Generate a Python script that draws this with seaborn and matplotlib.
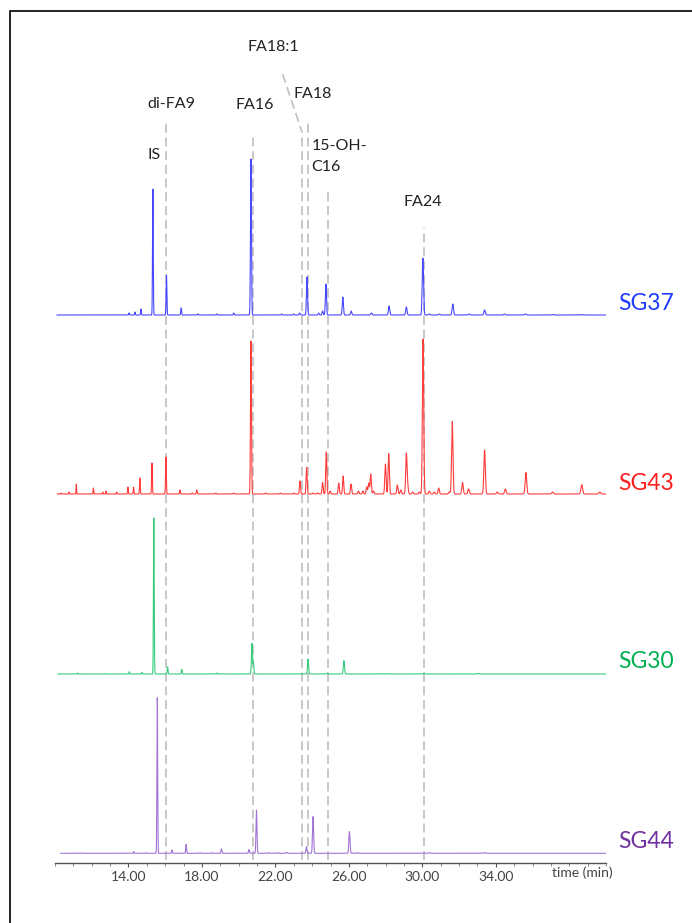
import numpy as np
import pandas as pd
import matplotlib
matplotlib.use("Agg")
import matplotlib.pyplot as plt
import seaborn as sns
from matplotlib.patches import Rectangle

# ---------------- data ----------------
samples = ["SG37", "SG43", "SG30", "SG44"]

sg37_rt = [14.03, 14.35, 14.68, 15.33, 16.07, 16.87, 17.78, 18.81, 19.73, 20.67,
           22.34, 22.99, 23.32, 23.72, 24.35, 24.57, 24.75, 25.67, 26.13, 27.23,
           28.19, 29.13, 30.03, 30.38, 30.92, 31.66, 32.55, 33.39, 34.47, 35.62,
           37.10, 38.66]
sg37_h = [2, 3, 6, 126, 40, 7, 1, 1, 2, 156,
          1, 1, 2, 38, 2, 4, 31, 18, 4, 2,
          9, 8, 57, 1, 1, 11, 1, 5, 1, 1,
          0.5, 0.5]

sg43_rt = [10.33, 10.77, 11.16, 12.09, 12.60, 12.78, 13.36, 13.97, 14.28, 14.62,
           15.28, 16.04, 16.80, 17.47, 17.72, 18.75, 19.73, 20.67, 21.47, 22.27,
           23.01, 23.34, 23.70, 24.04, 24.31, 24.57, 24.77, 24.98, 25.45, 25.69,
           26.12, 26.52, 26.76, 26.97, 27.08, 27.19, 27.34, 27.99, 28.17, 28.64,
           28.83, 29.13, 29.20, 29.47, 29.84, 30.04, 30.38, 30.65, 30.89, 31.47,
           31.63, 32.19, 32.52, 33.39, 34.08, 34.52, 35.64, 37.09, 38.68, 39.66]
sg43_h = [1, 2, 10, 6, 2, 3, 2, 7, 7, 16,
          31, 37, 4, 1, 4, 1, 1, 153, 1, 1,
          1, 13, 26.5, 1, 1, 11.5, 42, 3, 11, 18,
          10, 3, 3, 7, 11, 20, 3, 30, 40.5, 9,
          4, 40, 8, 2, 2, 155, 3, 2, 6, 2,
          72.5, 11.5, 5, 44, 2, 5, 21.5, 2, 9.3, 2]

sg30_rt = [11.23, 12.72, 14.05, 14.73, 15.38, 16.13, 16.90, 18.82, 20.72, 20.80,
           23.78, 24.84, 25.73, 28.10, 30.09, 33.05]
sg30_h = [1, 0.5, 2.3, 1.5, 156, 7, 4.7, 1, 30.5, 12,
          15, 1, 13.3, 0.5, 1, 0.7]

sg44_rt = [11.47, 14.29, 14.97, 15.57, 16.37, 17.14, 17.90, 18.53, 19.06, 20.56,
           20.97, 21.64, 22.15, 22.63, 23.69, 24.05, 26.03, 26.48, 30.38, 33.40]
sg44_h = [0.3, 1.7, 0.7, 155.7, 3.3, 9, 0.7, 0.7, 4.3, 3.7,
          43.3, 0.7, 0.7, 1, 6.7, 36.7, 21.7, 0.7, 0.7, 0.7]

trace_start = [10.10, 10.12, 10.16, 10.30]
trace_end = [40.05, 40.05, 40.20, 40.40]

marker_names = ["di-FA9", "FA16", "FA18:1", "FA18", "15-OH-C16", "FA24"]
marker_rt = [16.06, 20.76, 23.45, 23.76, 24.84, 30.09]

tick_values = [14, 18, 22, 26, 30, 34]
tick_labels = ["14.00", "18.00", "22.00", "26.00", "30.00", "34.00"]

# ---------------- layout / style ----------------
W, H = 692, 923
baselines = [548, 369, 189, 9.7]          # vertical offsets (px above axis)
line_colors = ["#4747ff", "#ff3c3c", "#36cc7c", "#a074d4"]
label_colors = ["#1f3dff", "#ff1f1f", "#00b050", "#7030a0"]
label_y = [560, 380, 201, 21]
marker_top = [741, 726, 731, 743, 674, 635]

sns.set_theme(style="white")
plt.rcParams["font.family"] = ["Lato", "DejaVu Sans"]

fig = plt.figure(figsize=(W / 100, H / 100), dpi=100)
ax = fig.add_axes([55 / W, (H - 863) / H, (606 - 55) / W, (863 - 11) / H])
ax.set_xlim(10, 40)
ax.set_ylim(0, 852)

peaks = {
    "SG37": (sg37_rt, sg37_h),
    "SG43": (sg43_rt, sg43_h),
    "SG30": (sg30_rt, sg30_h),
    "SG44": (sg44_rt, sg44_h),
}

frames = []
for i, s in enumerate(samples):
    t = np.arange(trace_start[i], trace_end[i], 0.003)
    rts, hs = peaks[s]
    sig = np.zeros_like(t)
    for rt, h in zip(rts, hs):
        w = 0.014 + 0.0011 * (rt - 10)
        sig += h * np.exp(-0.5 * ((t - rt) / w) ** 2)
    frames.append(pd.DataFrame({"time": t, "signal": sig + baselines[i], "sample": s}))
df = pd.concat(frames, ignore_index=True)

# dashed marker lines (behind traces)
for name, rt, top in zip(marker_names, marker_rt, marker_top):
    ax.plot([rt, rt], [3, top], color="#c4c4c4", lw=1.3, ls=(0, (5, 2.6)), zorder=1)
# leader for FA18:1
ax.plot([22.39, marker_rt[2]], [789, marker_top[2]], color="#c4c4c4", lw=1.3,
        ls=(0, (5, 2.6)), zorder=1)

sns.lineplot(data=df, x="time", y="signal", hue="sample", hue_order=samples,
             palette=dict(zip(samples, line_colors)), estimator=None, sort=False,
             legend=False, lw=0.8, ax=ax, zorder=3)

# sample labels
for i, s in enumerate(samples):
    ax.text(42.2, label_y[i], s, color=label_colors[i], fontsize=16.5,
            ha="center", va="center", clip_on=False)

# peak annotations
ann_kw = dict(fontsize=11.5, color="#222222", va="center", clip_on=False)
ax.text(21.88, 816, "FA18:1", ha="center", **ann_kw)
ax.text(24.02, 769, "FA18", ha="center", **ann_kw)
ax.text(16.31, 759, "di-FA9", ha="center", **ann_kw)
ax.text(20.87, 758, "FA16", ha="center", **ann_kw)
ax.text(15.39, 708, "IS", ha="center", **ann_kw)
ax.text(23.95, 717, "15-OH-", ha="left", **ann_kw)
ax.text(23.95, 696, "C16", ha="left", **ann_kw)
ax.text(30.05, 661, "FA24", ha="center", **ann_kw)

# axis styling
for sp in ["left", "right", "top"]:
    ax.spines[sp].set_visible(False)
ax.spines["bottom"].set_color("#555555")
ax.spines["bottom"].set_linewidth(1.0)
ax.set_yticks([])
ax.set_xticks(tick_values)
ax.set_xticklabels(tick_labels)
ax.set_xticks(np.arange(10, 40.1, 1), minor=True)
ax.tick_params(axis="x", which="major", direction="out", length=3, width=0.8,
               color="#555555", labelsize=10, labelcolor="#444444", pad=3, bottom=True)
ax.tick_params(axis="x", which="minor", direction="out", length=2, width=0.6,
               color="#777777", bottom=True)
ax.set_xlabel("")
ax.set_ylabel("")
ax.text(38.7, -10, "time (min)", fontsize=10, color="#444444", ha="center",
        va="center", clip_on=False)

# outer frame (right and bottom sides lie beyond the image)
fig.patches.append(Rectangle((10 / W, -0.2), 1.5, (H - 11) / H + 0.2,
                             transform=fig.transFigure, fill=False,
                             ec="black", lw=1.2))

fig.savefig("out.png", dpi=100, facecolor="white")
